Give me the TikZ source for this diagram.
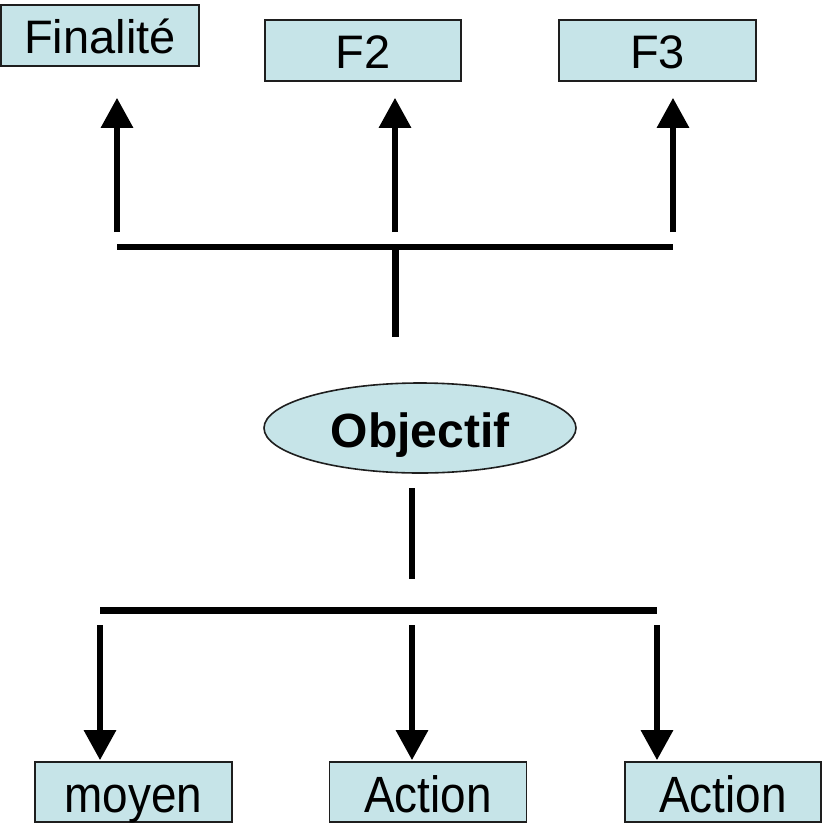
\documentclass[tikz,border=0pt]{standalone}
\usepackage{fontspec}
\setmainfont{Liberation Sans}
\newfontfamily\condfont[FakeStretch=0.9]{Liberation Sans}
\usetikzlibrary{shapes.geometric,arrows.meta}
\definecolor{boxfill}{RGB}{198,228,232}
\definecolor{boxline}{RGB}{30,30,30}
\tikzset{
  boxstyle/.style={draw=boxline,line width=1.6pt,fill=boxfill,rectangle,inner sep=0pt,
    minimum width=197pt,minimum height=61pt,text height=36pt,text depth=0pt,
    font=\fontsize{47}{50}\selectfont},
  lowbox/.style={boxstyle,minimum height=60pt,text height=40pt,
    font=\condfont\fontsize{51}{54}\selectfont},
  ovalstyle/.style={draw=boxline,line width=1.6pt,fill=boxfill,ellipse,inner sep=0pt,
    minimum width=312pt,minimum height=90pt,text height=38pt,text depth=0pt,
    font=\bfseries\fontsize{48}{50}\selectfont},
  bar/.style={line width=6.5pt,line cap=butt},
  arr/.style={line width=6pt,-{Triangle[length=30pt,width=31pt]}}
}
\begin{document}
\begin{tikzpicture}[x=1pt,y=-1pt]
\useasboundingbox (0,0) rectangle (823,823);
% top boxes
\node[boxstyle,minimum width=198pt] (fin) at (100,35.5) {Finalité};
\node[boxstyle,minimum width=196pt] (f2) at (363,50.5) {F2};
\node[boxstyle] (f3) at (657.5,50.5) {F3};
% objective
\node[ovalstyle] (obj) at (420,428) {Objectif};
% bottom boxes
\node[lowbox] (moy) at (133.5,792) {moyen};
\node[lowbox] (act1) at (428,792) {Action};
\node[lowbox,minimum width=196pt] (act2) at (723,792) {Action};
% top tree
\coordinate (u1) at (117,232);
\coordinate (u2) at (395,232);
\coordinate (u3) at (673,232);
\coordinate (hl) at (117,247);
\coordinate (hr) at (673,247);
\coordinate (ct) at (395.5,247);
\coordinate (cb) at (395.5,337);
\draw[arr,shorten >=31pt] (u1) -- (u1 |- fin.south);
\draw[arr,shorten >=16pt] (u2) -- (u2 |- f2.south);
\draw[arr,shorten >=16pt] (u3) -- (u3 |- f3.south);
\draw[bar] (hl) -- (hr);
\draw[bar] (ct) -- (cb);
% bottom tree
\coordinate (ot) at (412,488);
\coordinate (ob) at (412,579);
\coordinate (bl) at (100,610.5);
\coordinate (br) at (657,610.5);
\coordinate (d1) at (100,625);
\coordinate (d2) at (412,625);
\coordinate (d3) at (657,625);
\draw[bar] (ot) -- (ob);
\draw[bar] (bl) -- (br);
\draw[arr,shorten >=1pt] (d1) -- (d1 |- moy.north);
\draw[arr,shorten >=1pt] (d2) -- (d2 |- act1.north);
\draw[arr,shorten >=1pt] (d3) -- (d3 |- act2.north);
\end{tikzpicture}
\end{document}
